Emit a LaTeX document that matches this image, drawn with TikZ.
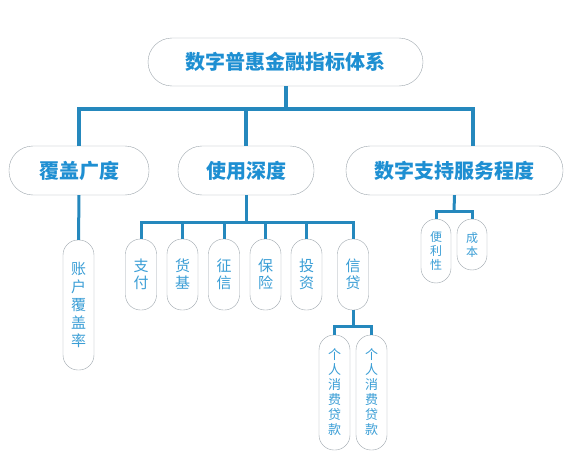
\documentclass[tikz,border=0pt]{standalone}
\usepackage{fontspec}
\newfontfamily\cjk{Noto Sans CJK SC}
\usepackage{xcolor}
\usetikzlibrary{positioning}

\definecolor{linkblue}{HTML}{2588BD}
\definecolor{titleblue}{HTML}{1E8FD2}
\definecolor{leafblue}{HTML}{3A9ED6}
\definecolor{pillgray}{HTML}{9EA6AD}

\begin{document}
\begin{tikzpicture}[
    x=1pt, y=-1pt,
    link/.style={draw=linkblue, line width=4pt},
    sublink/.style={draw=linkblue, line width=3pt},
    titlepill/.style={
        rectangle,
        rounded corners=24pt,
        draw=pillgray,
        fill=white,
        text=titleblue,
        font=\cjk\bfseries\fontsize{20}{24}\selectfont,
        inner sep=0pt,
        minimum height=49pt
    },
    leafpill/.style={
        rectangle,
        rounded corners=15pt,
        draw=pillgray,
        fill=white,
        text=leafblue,
        align=center,
        inner sep=0pt,
        minimum width=31pt
    },
    leaftext/.style={font=\cjk\fontsize{15}{17}\selectfont},
    smalltext/.style={font=\cjk\fontsize{13}{15}\selectfont},
    tinytext/.style={font=\cjk\fontsize{12}{14}\selectfont}
]
\fill[white] (0,0) rectangle (582,471);
\useasboundingbox (0,0) rectangle (582,471);

% =========================================================
% Root and first level
% =========================================================
\node[titlepill, minimum width=275pt, minimum height=48pt] (root) at (285.5,62) {数字普惠金融指标体系};

\node[titlepill, minimum width=140pt] (cover) at (79,170.5) {覆盖广度};
\node[titlepill, minimum width=136pt] (usage) at (246,170.5) {使用深度};
\node[titlepill, minimum width=217pt] (digital) at (454.5,170.5) {数字支持服务程度};

% =========================================================
% Leaves
% =========================================================
\node[leafpill, minimum height=130pt, font=\cjk\fontsize{15}{18}\selectfont] (account) at (78.5,305) {账\\户\\覆\\盖\\率};

\node[leafpill, leaftext, minimum height=71pt] (pay) at (141,274.5) {支\\付};
\node[leafpill, leaftext, minimum height=71pt] (fund) at (182.5,274.5) {货\\基};
\node[leafpill, leaftext, minimum height=71pt] (credit) at (224,274.5) {征\\信};
\node[leafpill, leaftext, minimum height=71pt] (insure) at (265.5,274.5) {保\\险};
\node[leafpill, leaftext, minimum height=71pt] (invest) at (306.5,274.5) {投\\资};
\node[leafpill, leaftext, minimum height=71pt] (loan) at (353,274.5) {信\\贷};

\node[leafpill, smalltext, minimum height=115pt] (loanA) at (334.5,392.5) {个\\人\\消\\费\\贷\\款};
\node[leafpill, smalltext, minimum height=115pt] (loanB) at (371.5,392.5) {个\\人\\消\\费\\贷\\款};

\node[leafpill, tinytext, minimum width=30pt, minimum height=64pt] (ease) at (436,251) {便\\利\\性};
\node[leafpill, tinytext, minimum width=30pt, minimum height=51pt] (cost) at (472,244.5) {成\\本};

% =========================================================
% Connectors
% =========================================================
\coordinate (topbus) at (286,109);
\coordinate (digdrop) at (473,146);
\coordinate (usebus) at (246,222);
\coordinate (loanbus) at (353,326);
\coordinate (digbus) at (454,211.5);

\begin{scope}[on background layer/.try]
\draw[link] (root.south -| topbus) -- (topbus);
\draw[link] (cover.north) |- (topbus) -| (digdrop);
\draw[link] (topbus -| usage.north) -- (usage.north);

\draw[sublink] (cover.south) -- (account.north);

\draw[sublink] (usage.south) -- (usebus);
\draw[sublink] (pay.north) |- (usebus) -| (loan.north);
\foreach \leaf in {fund, credit, insure, invest}
    \draw[sublink] (usebus -| \leaf.north) -- (\leaf.north);

\draw[sublink] (loan.south) -- (loanbus);
\draw[sublink] (loanA.north) |- (loanbus) -| (loanB.north);

\draw[sublink] (digital.south) -- (digbus);
\draw[sublink] (ease.north) |- (digbus) -| (cost.north);
\end{scope}

\end{tikzpicture}
\end{document}
